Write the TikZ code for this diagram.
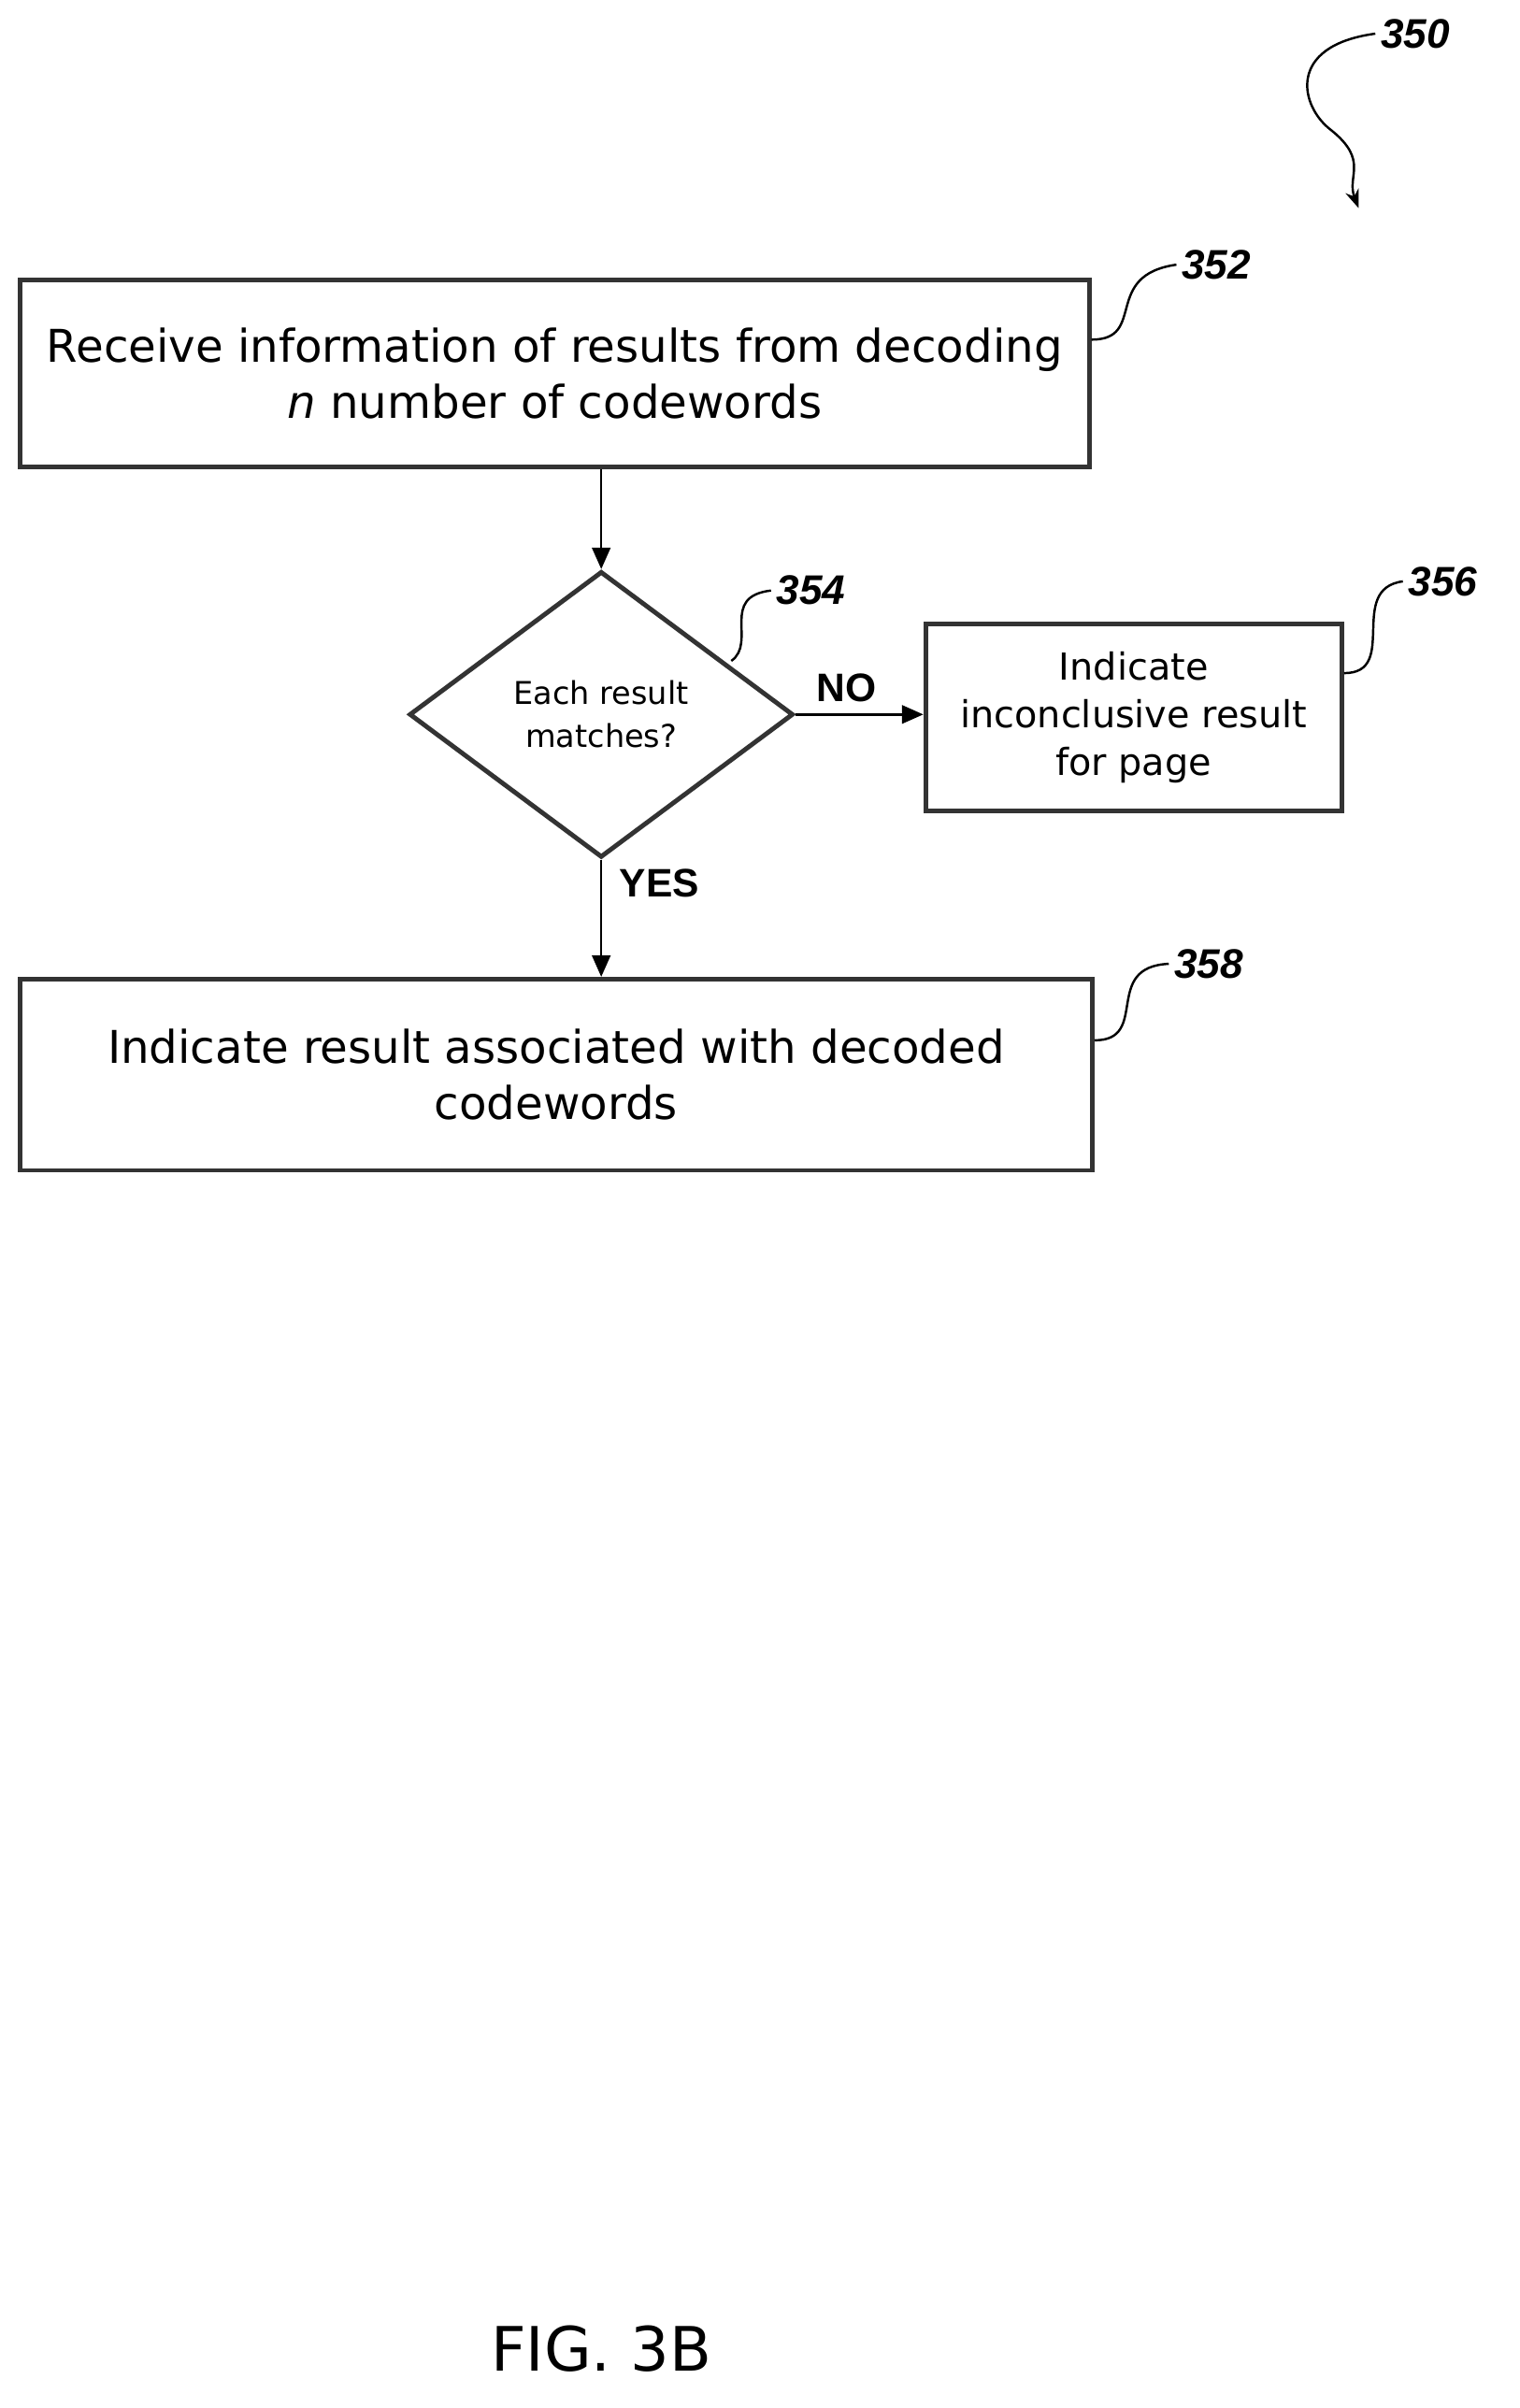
\documentclass[tikz,border=0pt]{standalone}
\usepackage{fontspec}
\setmainfont{Liberation Sans}
\newfontfamily\boxfont{DejaVu Sans}
\usetikzlibrary{shapes.geometric}
\usetikzlibrary{arrows.meta}

\tikzset{
  box/.style={draw, line width=3pt, draw=black!80, rectangle, align=center, inner sep=0pt},
  dec/.style={draw, line width=3pt, draw=black!80, diamond, aspect=1.35, align=center, inner sep=0pt},
  flow/.style={-{Triangle[length=14pt,width=12pt]}, line width=1.5pt},
  ref/.style={font=\fontsize{27}{30}\selectfont\bfseries\itshape},
  squig/.style={line width=1.5pt}
}

\begin{document}
\begin{tikzpicture}[x=1pt, y=-1pt]
    \useasboundingbox (0,0) rectangle (993,1574);

    \node (B1) at (362.5,244) [box, minimum width=699pt, minimum height=122pt, font=\boxfont\fontsize{29.5}{37}\selectfont] {Receive information of results from decoding\\\textit{n} number of codewords};
    \node (D1) at (393,467) [dec, minimum width=251pt, minimum height=187pt, font=\boxfont\fontsize{20.5}{28}\selectfont] {Each result\\matches?};
    \node (B2) at (741,469) [box, minimum width=272pt, minimum height=122pt, font=\boxfont\fontsize{24.3}{31}\selectfont] {Indicate\\inconclusive result\\for page};
    \node (B3) at (363.5,702.5) [box, minimum width=701pt, minimum height=125pt, font=\boxfont\fontsize{29.5}{37}\selectfont] {Indicate result associated with decoded\\codewords};

    \draw [flow] (D1.north |- B1.south) -- (D1.north);
    \draw [flow] (D1.east) -- (D1.east -| B2.west) node [pos=0.4, above=4pt, font=\fontsize{26}{28}\selectfont\bfseries] (TextNo) {NO};
    \draw [flow] (D1.south) -- (D1.south |- B3.north) node [pos=0.2, right=8pt, font=\fontsize{26}{28}\selectfont\bfseries] (TextYes) {YES};

    % reference numerals
    \node (L0) at (925,22) [ref] {350};
    \node (L1) at (795,173) [ref] {352};
    \node (L2) at (530,386) [ref] {354};
    \node (L3) at (943,380) [ref] {356};
    \node (L4) at (790,630) [ref] {358};

    \coordinate (P0) at (888,136);
    \draw [squig, -{Stealth[length=12pt]}] (L0.west) .. controls (840,30) and (850,70) .. (870,85) .. controls (895,105) and (880,115) .. (P0);
    \draw [squig] (B1.east |- 0,222) .. controls (750,222) and (720,180) .. (L1.west);
    \draw [squig] (478,432) .. controls (495,420) and (470,390) .. (L2.west);
    \draw [squig] (B2.east |- 0,440) .. controls (915,440) and (880,385) .. (L3.west);
    \draw [squig] (B3.east |- 0,680) .. controls (752,680) and (720,632) .. (L4.west);

    \node (Fig) at (393,1535) [font=\boxfont\fontsize{40}{44}\selectfont] {FIG. 3B};
\end{tikzpicture}
\end{document}
